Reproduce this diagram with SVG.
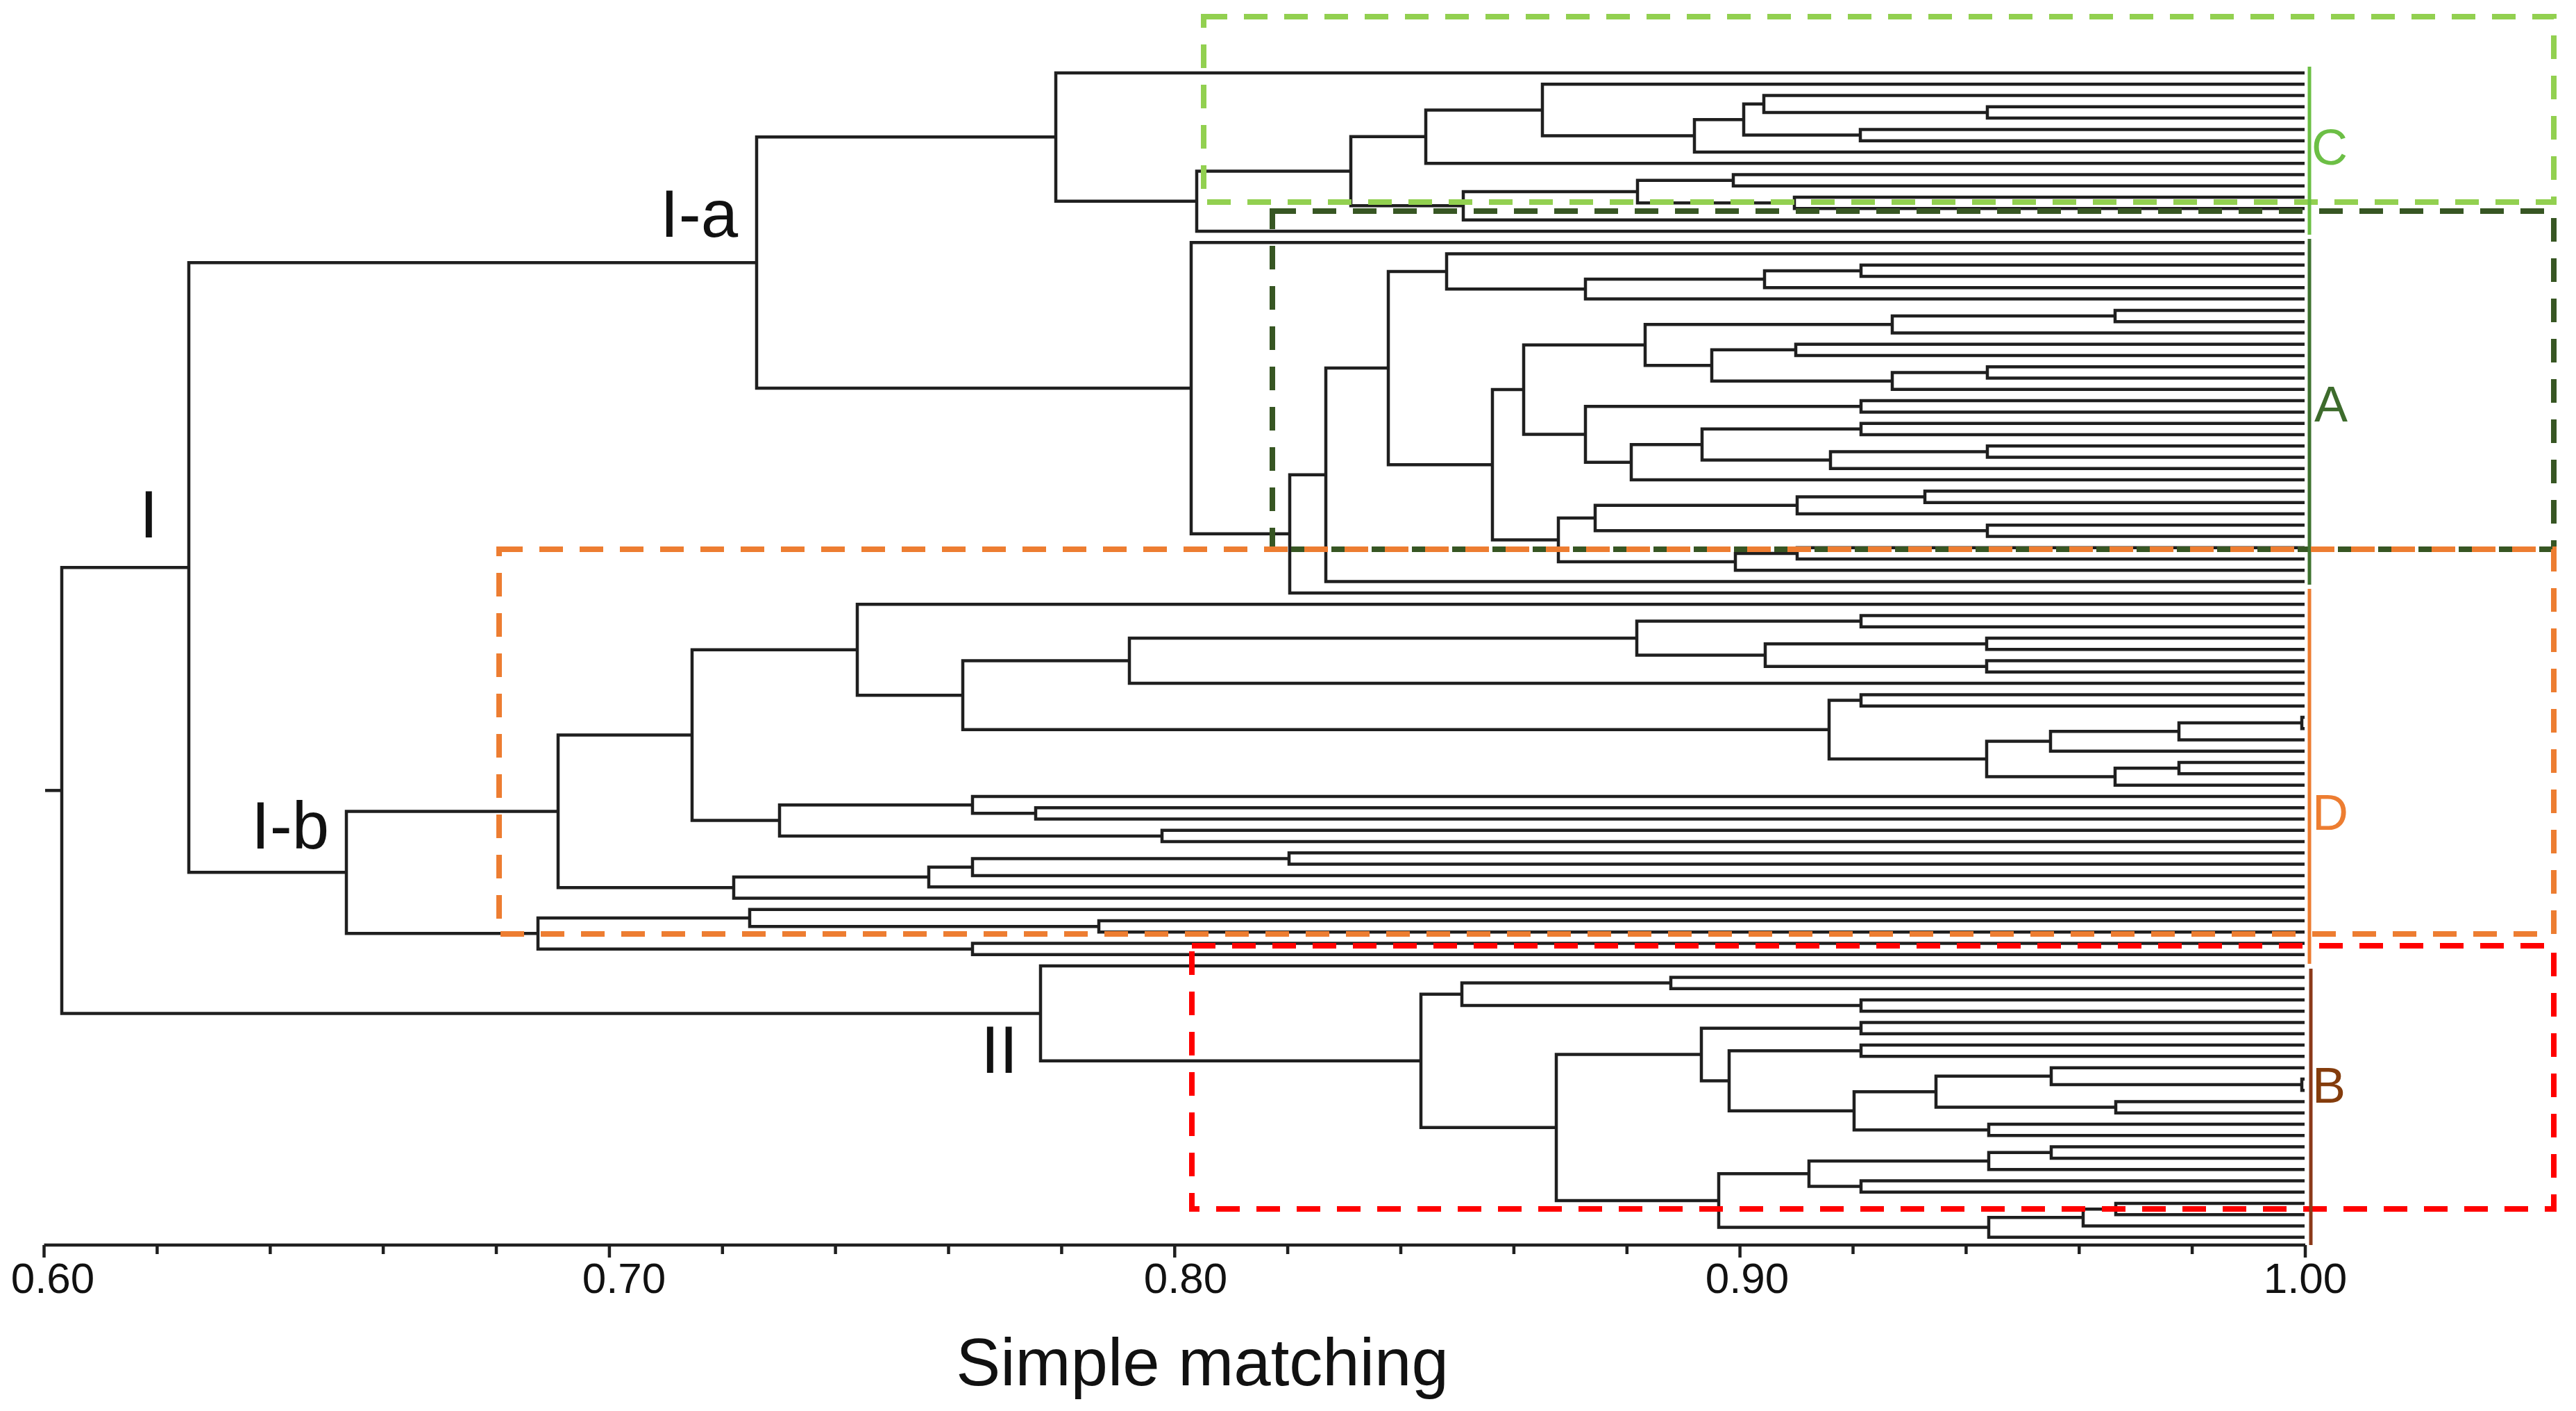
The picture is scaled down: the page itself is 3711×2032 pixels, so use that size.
<svg xmlns="http://www.w3.org/2000/svg" width="3711" height="2032" viewBox="0 0 3711 2032">
<style>
.tree path{fill:none;stroke:#1f1f1f;stroke-width:4.5;vector-effect:non-scaling-stroke;stroke-linejoin:miter;stroke-linecap:butt}
.axis line{stroke:#1f1f1f;stroke-width:4.5}
.tick{font-family:"Liberation Sans",Arial,sans-serif;font-size:62px;fill:#111;text-anchor:middle}
.big{font-family:"Liberation Sans",Arial,sans-serif;font-size:96px;fill:#111}
.cl{font-family:"Liberation Sans",Arial,sans-serif;font-size:72px}
.box{fill:none;stroke-width:8;stroke-dasharray:34 24}
.bar{stroke-width:5}
</style>
<rect x="0" y="0" width="3711" height="2032" fill="#ffffff"/>
<g id="connectors" class="tree" transform="matrix(1 0 0 16.28 0 105)">
<path d="M3320 3 H2863 V4 H3320"/>
<path d="M3320 2 H2541 V3.5 H2863"/>
<path d="M3320 5 H2680 V6 H3320"/>
<path d="M2541 2.75 H2512 V5.5 H2680"/>
<path d="M2512 4.125 H2441 V7 H3320"/>
<path d="M3320 1 H2222 V5.5625 H2441"/>
<path d="M2222 3.28125 H2054 V8 H3320"/>
<path d="M3320 9 H2497 V10 H3320"/>
<path d="M3320 11 H2585 V12 H3320"/>
<path d="M2497 9.5 H2359 V11.5 H2585"/>
<path d="M2359 10.5 H2108 V13 H3320"/>
<path d="M2054 5.640625 H1946 V11.75 H2108"/>
<path d="M1946 8.6953 H1724 V14 H3320"/>
<path d="M3320 0 H1521 V11.3477 H1724"/>
<path d="M3320 17 H2681 V18 H3320"/>
<path d="M2681 17.5 H2542 V19 H3320"/>
<path d="M2542 18.25 H2284 V20 H3320"/>
<path d="M3320 16 H2084 V19.125 H2284"/>
<path d="M3320 21 H3047 V22 H3320"/>
<path d="M3047 21.5 H2726 V23 H3320"/>
<path d="M3320 24 H2587 V25 H3320"/>
<path d="M3320 26 H2863 V27 H3320"/>
<path d="M2863 26.5 H2726 V28 H3320"/>
<path d="M2587 24.5 H2466 V27.25 H2726"/>
<path d="M2726 22.25 H2370 V25.875 H2466"/>
<path d="M3320 29 H2681 V30 H3320"/>
<path d="M3320 31 H2681 V32 H3320"/>
<path d="M3320 33 H2863 V34 H3320"/>
<path d="M2863 33.5 H2637 V35 H3320"/>
<path d="M2681 31.5 H2452 V34.25 H2637"/>
<path d="M2452 32.875 H2350 V36 H3320"/>
<path d="M2681 29.5 H2284 V34.4375 H2350"/>
<path d="M2370 24.0625 H2195 V31.96875 H2284"/>
<path d="M3320 37 H2773 V38 H3320"/>
<path d="M2773 37.5 H2589 V39 H3320"/>
<path d="M3320 40 H2863 V41 H3320"/>
<path d="M2589 38.25 H2298 V40.5 H2863"/>
<path d="M3320 42 H2589 V43 H3320"/>
<path d="M2589 42.5 H2500 V44 H3320"/>
<path d="M2298 39.375 H2245 V43.25 H2500"/>
<path d="M2195 28.015625 H2150 V41.3125 H2245"/>
<path d="M2084 17.5625 H2000 V34.6640625 H2150"/>
<path d="M2000 26.11328 H1910 V45 H3320"/>
<path d="M1910 35.55664 H1858 V46 H3320"/>
<path d="M3320 15 H1716 V40.77832 H1858"/>
<path d="M1521 5.6738 H1090 V27.88916 H1716"/>
<path d="M3320 48 H2681 V49 H3320"/>
<path d="M3320 50 H2862 V51 H3320"/>
<path d="M3320 52 H2862 V53 H3320"/>
<path d="M2862 50.5 H2543 V52.5 H2862"/>
<path d="M2681 48.5 H2358 V51.5 H2543"/>
<path d="M2358 50 H1627 V54 H3320"/>
<path d="M3320 55 H2681 V56 H3320"/>
<path d="M3320 57 H3316 V58 H3320"/>
<path d="M3316 57.5 H3139 V59 H3320"/>
<path d="M3139 58.25 H2954 V60 H3320"/>
<path d="M3320 61 H3139 V62 H3320"/>
<path d="M3139 61.5 H3047 V63 H3320"/>
<path d="M2954 59.125 H2862 V62.25 H3047"/>
<path d="M2681 55.5 H2635 V60.6875 H2862"/>
<path d="M1627 52 H1387 V58.09375 H2635"/>
<path d="M3320 47 H1235 V55.046875 H1387"/>
<path d="M3320 65 H1492 V66 H3320"/>
<path d="M3320 64 H1401 V65.5 H1492"/>
<path d="M3320 67 H1674 V68 H3320"/>
<path d="M1401 64.75 H1123 V67.5 H1674"/>
<path d="M1235 51.0234 H997 V66.125 H1123"/>
<path d="M3320 69 H1857 V70 H3320"/>
<path d="M1857 69.5 H1401 V71 H3320"/>
<path d="M1401 70.25 H1338 V72 H3320"/>
<path d="M1338 71.125 H1057 V73 H3320"/>
<path d="M997 58.5742 H804 V72.0625 H1057"/>
<path d="M3320 75 H1583 V76 H3320"/>
<path d="M3320 74 H1080 V75.5 H1583"/>
<path d="M3320 77 H1401 V78 H3320"/>
<path d="M1080 74.75 H775 V77.5 H1401"/>
<path d="M804 65.3184 H499 V76.125 H775"/>
<path d="M1090 16.78148 H272 V70.7217 H499"/>
<path d="M3320 80 H2407 V81 H3320"/>
<path d="M3320 82 H2681 V83 H3320"/>
<path d="M2407 80.5 H2106 V82.5 H2681"/>
<path d="M3320 84 H2681 V85 H3320"/>
<path d="M3320 86 H2681 V87 H3320"/>
<path d="M3320 89 H3316 V90 H3320"/>
<path d="M3320 88 H2955 V89.5 H3316"/>
<path d="M3320 91 H3048 V92 H3320"/>
<path d="M2955 88.75 H2789 V91.5 H3048"/>
<path d="M3320 93 H2865 V94 H3320"/>
<path d="M2789 90.125 H2671 V93.5 H2865"/>
<path d="M2681 86.5 H2491 V91.8125 H2671"/>
<path d="M2681 84.5 H2451 V89.15625 H2491"/>
<path d="M3320 95 H2955 V96 H3320"/>
<path d="M2955 95.5 H2865 V97 H3320"/>
<path d="M3320 98 H2681 V99 H3320"/>
<path d="M2865 96.25 H2606 V98.5 H2681"/>
<path d="M3320 100 H3048 V101 H3320"/>
<path d="M3048 100.5 H3001 V102 H3320"/>
<path d="M3001 101.25 H2865 V103 H3320"/>
<path d="M2606 97.375 H2476 V102.125 H2865"/>
<path d="M2451 86.828125 H2242 V99.75 H2476"/>
<path d="M2106 81.5 H2047 V93.2890625 H2242"/>
<path d="M3320 79 H1499 V87.39453 H2047"/>
<path d="M272 43.7516 H89 V83.19727 H1499"/>
<path d="M65 63.4744 H89"/>
</g>
<g id="axis" class="axis">
<line x1="63.5" y1="1793" x2="3321" y2="1793"/>
<line x1="63.5" y1="1793" x2="63.5" y2="1811"/>
<line x1="226.4" y1="1793" x2="226.4" y2="1806"/>
<line x1="389.3" y1="1793" x2="389.3" y2="1806"/>
<line x1="552.1" y1="1793" x2="552.1" y2="1806"/>
<line x1="715" y1="1793" x2="715" y2="1806"/>
<line x1="877.9" y1="1793" x2="877.9" y2="1811"/>
<line x1="1040.8" y1="1793" x2="1040.8" y2="1806"/>
<line x1="1203.6" y1="1793" x2="1203.6" y2="1806"/>
<line x1="1366.5" y1="1793" x2="1366.5" y2="1806"/>
<line x1="1529.4" y1="1793" x2="1529.4" y2="1806"/>
<line x1="1692.3" y1="1793" x2="1692.3" y2="1811"/>
<line x1="1855.1" y1="1793" x2="1855.1" y2="1806"/>
<line x1="2018" y1="1793" x2="2018" y2="1806"/>
<line x1="2180.9" y1="1793" x2="2180.9" y2="1806"/>
<line x1="2343.8" y1="1793" x2="2343.8" y2="1806"/>
<line x1="2506.6" y1="1793" x2="2506.6" y2="1811"/>
<line x1="2669.5" y1="1793" x2="2669.5" y2="1806"/>
<line x1="2832.4" y1="1793" x2="2832.4" y2="1806"/>
<line x1="2995.3" y1="1793" x2="2995.3" y2="1806"/>
<line x1="3158.1" y1="1793" x2="3158.1" y2="1806"/>
<line x1="3321" y1="1793" x2="3321" y2="1811"/>
<text class="tick" x="76" y="1862">0.60</text>
<text class="tick" x="899" y="1862">0.70</text>
<text class="tick" x="1708" y="1862">0.80</text>
<text class="tick" x="2517" y="1862">0.90</text>
<text class="tick" x="3321" y="1862">1.00</text>
<text id="axis-title" class="big" x="1732" y="1995" text-anchor="middle">Simple matching</text>
</g>
<g id="group-labels">
<text id="lbl-I" class="big" x="201" y="774">I</text>
<text id="lbl-Ia" class="big" x="951" y="341">I-a</text>
<text id="lbl-Ib" class="big" x="362" y="1222">I-b</text>
<text id="lbl-II" class="big" x="1413" y="1545">II</text>
</g>
<g id="cluster-C">
<rect class="box" x="1734" y="24" width="1945" height="267" stroke="#92d050"/>
<line class="bar" x1="3327" y1="96" x2="3327" y2="338" stroke="#6cbf45"/>
<text class="cl" x="3330" y="237" fill="#6cbf45">C</text>
</g>
<g id="cluster-A">
<rect class="box" x="1833" y="304" width="1846" height="487" stroke="#375623"/>
<line class="bar" x1="3327" y1="344" x2="3327" y2="842" stroke="#3f7330"/>
<text class="cl" x="3334" y="607" fill="#3d6b2c">A</text>
</g>
<g id="cluster-D">
<rect class="box" x="719" y="791" width="2960" height="554" stroke="#ed7d31"/>
<line class="bar" x1="3327" y1="848" x2="3327" y2="1388" stroke="#ed7d31"/>
<text class="cl" x="3331" y="1195" fill="#ed7d31">D</text>
</g>
<g id="cluster-B">
<rect class="box" x="1717" y="1362" width="1962" height="379" stroke="#ff0000"/>
<line class="bar" x1="3329" y1="1395" x2="3329" y2="1793" stroke="#8b3a1a" stroke-width="3"/>
<text class="cl" x="3331" y="1588" fill="#843c0c">B</text>
</g>
</svg>
